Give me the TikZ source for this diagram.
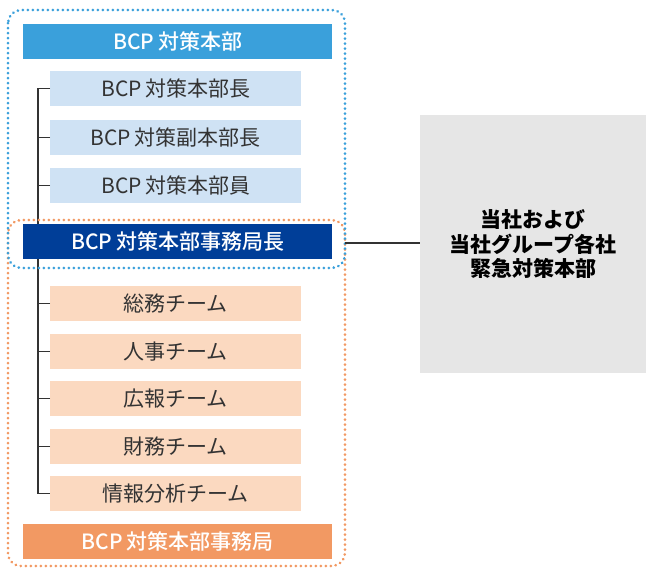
\documentclass[tikz,border=0pt]{standalone}
\usepackage{fontspec}
\setmainfont{Noto Sans CJK JP}
\newfontfamily\medfont{Noto Sans CJK JP Medium}
\usepackage{tikz}
\usetikzlibrary{positioning}

\definecolor{hqblue}{RGB}{58,160,219}
\definecolor{memberblue}{RGB}{207,226,244}
\definecolor{chiefblue}{RGB}{0,62,152}
\definecolor{teamorange}{RGB}{251,217,192}
\definecolor{officeorange}{RGB}{242,153,99}
\definecolor{groupgray}{RGB}{230,230,230}
\definecolor{linegray}{RGB}{51,51,51}

\begin{document}
\begin{tikzpicture}[x=1pt, y=-1pt,
    headbox/.style={fill=#1, text=white, font=\fontsize{21}{24}\medfont,
        minimum width=309pt, minimum height=35pt, inner sep=0pt, anchor=north west},
    itembox/.style={fill=#1, text=linegray, font=\fontsize{21}{24}\selectfont,
        minimum width=251pt, minimum height=35pt, inner sep=0pt, anchor=north west},
    dotframe/.style={draw=#1, line width=2.9pt, line cap=round,
        dash pattern=on 0.1pt off 4.9pt, rounded corners=13pt},
    treeline/.style={draw=linegray, line width=1.2pt}]

    % Fix the page size
    \useasboundingbox (0,0) rectangle (646,569);

    % Members of the headquarters
    \foreach \name/\y/\label in {m1/71/BCP\,対策本部長, m2/120/BCP\,対策副本部長, m3/168/BCP\,対策本部員}
        \node[itembox=memberblue] (\name) at (50,\y) {\label};

    % Teams of the office
    \foreach \name/\y/\label in {t1/286/総務チーム, t2/334/人事チーム, t3/381/広報チーム, t4/429/財務チーム, t5/476/情報分析チーム}
        \node[itembox=teamorange] (\name) at (50,\y) {\label};

    % Tree lines on the left
    \draw[treeline] (m1.west) -- ++(-12,0) |- (t5.west);
    \foreach \name in {m2, m3, t1, t2, t3, t4}
        \draw[treeline] (\name.west) -- ++(-12,0);

    % Header boxes
    \node[headbox=hqblue] (hq) at (23,24) {BCP\,対策本部};
    \node[headbox=chiefblue] (chief) at (23,224) {BCP\,対策本部事務局長};
    \node[headbox=officeorange] (office) at (23,524) {BCP\,対策本部事務局};

    % Dotted frames
    \draw[dotframe=officeorange] (8,220) rectangle (345,566);
    \draw[dotframe=hqblue] (8,10) rectangle (345,268);

    % Group headquarters on the right
    \node[fill=groupgray, minimum width=226pt, minimum height=258pt, inner sep=0pt,
        anchor=north west, align=center, font=\fontsize{21}{24.5}\selectfont\bfseries]
        (group) at (420,115) {当社および\\当社グループ各社\\緊急対策本部};

    \coordinate (frameedge) at (345,243);
    \draw[treeline] (frameedge) -- (group.west |- frameedge);
\end{tikzpicture}
\end{document}
